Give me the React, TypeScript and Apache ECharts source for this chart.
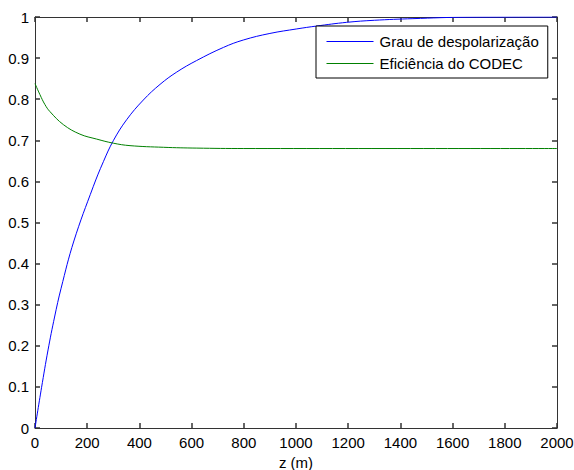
import React, { useEffect, useRef } from "react";
import * as echarts from "echarts";

const xTicks = [0, 200, 400, 600, 800, 1000, 1200, 1400, 1600, 1800, 2000];
const yTicks = [0, 0.1, 0.2, 0.3, 0.4, 0.5, 0.6, 0.7, 0.8, 0.9, 1];

const seriesNames = ["Grau de despolarização", "Eficiência do CODEC"];
const seriesColors = ["#0000ff", "#008000"];

const blueZ = [0, 25, 50, 75, 100, 149, 223, 262, 300, 351, 415, 479, 543, 619, 722, 798, 900, 1003, 1079, 1194, 1300, 1448, 1655, 2000];
const blueV = [0, 0.098, 0.19, 0.27, 0.34, 0.455, 0.587, 0.648, 0.699, 0.75, 0.798, 0.836, 0.866, 0.894, 0.926, 0.944, 0.96, 0.971, 0.978, 0.987, 0.992, 0.996, 0.9995, 1.0];

const greenZ = [0, 19, 38, 57, 109, 172, 236, 300, 364, 492, 620, 800, 2000];
const greenV = [0.838, 0.811, 0.787, 0.77, 0.738, 0.715, 0.703, 0.693, 0.687, 0.683, 0.681, 0.68, 0.68];

const FONT = "Liberation Sans";

export default function App() {
  const ref = useRef<HTMLDivElement>(null);
  useEffect(() => {
    const chart = echarts.init(ref.current!, undefined, { renderer: "svg" });
    const mkAxisLine = () => ({ show: true, onZero: false, lineStyle: { color: "#333333", width: 1 } });
    const mkAxisTick = () => ({ show: true, inside: true, length: 5, lineStyle: { color: "#333333", width: 1.5 } });
    const fmt = (list: number[]) => (v: number) => {
      const t = list.find((y) => Math.abs(y - v) < 1e-9);
      return t === undefined ? "" : String(t);
    };
    chart.setOption({
      animation: false,
      backgroundColor: "#fff",
      color: seriesColors,
      textStyle: { fontFamily: FONT },
      grid: { left: 35, right: 17, top: 17, bottom: 42, show: false, containLabel: false, outerBoundsMode: "none" },
      legend: {
        data: seriesNames.map((name, i) => ({
          name,
          itemStyle: { color: seriesColors[i], opacity: 0 },
          lineStyle: { color: seriesColors[i], width: 1, opacity: 1 },
        })),
        orient: "vertical",
        left: 316,
        top: 26,
        padding: [8, 9, 7, 10],
        itemGap: 7,
        itemWidth: 47,
        itemHeight: 14,
        borderColor: "#000",
        borderWidth: 1,
        borderRadius: 0,
        backgroundColor: "#fff",
        textStyle: { fontFamily: FONT, fontSize: 15, color: "#000", padding: [0, 0, 0, 1] },
      },
      xAxis: [
        {
          type: "value",
          min: 0,
          max: 2000,
          interval: 200,
          name: "z (m)",
          nameLocation: "middle",
          nameGap: 27,
          nameTextStyle: { fontFamily: FONT, fontSize: 15, color: "#000" },
          axisLine: mkAxisLine(),
          axisTick: mkAxisTick(),
          splitLine: { show: false },
          axisLabel: { fontFamily: FONT, fontSize: 15, color: "#000", margin: 7, formatter: fmt(xTicks) },
        },
        {
          type: "value",
          position: "top",
          min: 0,
          max: 2000,
          interval: 200,
          axisLine: mkAxisLine(),
          axisTick: mkAxisTick(),
          splitLine: { show: false },
          axisLabel: { show: false },
        },
      ],
      yAxis: [
        {
          type: "value",
          min: 0,
          max: 1,
          interval: 0.1,
          axisLine: mkAxisLine(),
          axisTick: mkAxisTick(),
          splitLine: { show: false },
          axisLabel: { fontFamily: FONT, fontSize: 15, color: "#000", margin: 6, formatter: fmt(yTicks) },
        },
        {
          type: "value",
          position: "right",
          min: 0,
          max: 1,
          interval: 0.1,
          axisLine: mkAxisLine(),
          axisTick: mkAxisTick(),
          splitLine: { show: false },
          axisLabel: { show: false },
        },
      ],
      series: seriesNames.map((name, s) => ({
        name,
        type: "line",
        data: (s === 0 ? blueZ : greenZ).map((z, i) => [z, (s === 0 ? blueV : greenV)[i]]),
        symbol: "none",
        smooth: 0.4,
        lineStyle: { color: seriesColors[s], width: 1 },
        itemStyle: { color: seriesColors[s] },
        xAxisIndex: 0,
        yAxisIndex: 0,
      })),
    });
    return () => chart.dispose();
  }, []);
  return <div ref={ref} style={{ width: 574, height: 470, position: "absolute", left: 0, top: 0 }} />;
}
